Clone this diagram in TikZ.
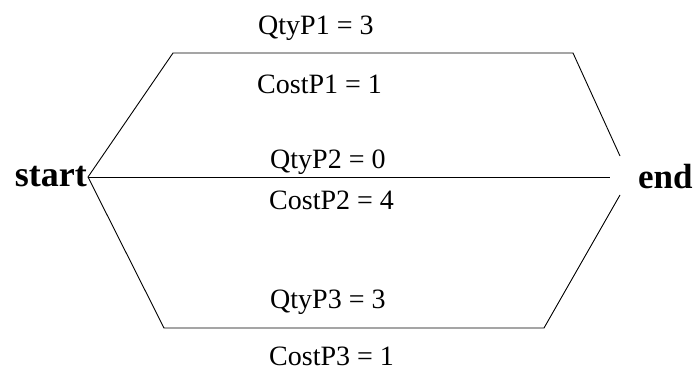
\documentclass[tikz,border=0pt]{standalone}
\usepackage{fontspec}
\setmainfont{Liberation Serif}
\begin{document}
\begin{tikzpicture}[x=1pt,y=-1pt,
  lbl/.style={anchor=base west,inner sep=0pt,font=\fontsize{28}{32}\selectfont},
  term/.style={inner sep=1pt,font=\fontsize{35}{40}\selectfont\bfseries},
  edge/.style={draw=black,line width=0.9pt}]
\useasboundingbox (0,0) rectangle (693,370);
\node[term,anchor=east,font=\fontsize{36}{40}\selectfont\bfseries] (start) at (88,177) {start};
\node[term,anchor=west] (end) at (637,177) {end};
\coordinate (t1) at (173,53);
\coordinate (t2) at (573,53);
\coordinate (t3) at (620,156);
\coordinate (m) at (610,177);
\coordinate (b1) at (164,328);
\coordinate (b2) at (544,328);
\coordinate (b3) at (620,195);
\draw[edge] (start.east) -- (t1) -- (t2) -- (t3);
\draw[edge] (start.east) -- (m);
\draw[edge] (start.east) -- (b1) -- (b2) -- (b3);
\node[lbl] (q1) at (258,34) {QtyP1 = 3};
\node[lbl] (c1) at (257,93) {CostP1 = 1};
\node[lbl] (q2) at (270,168) {QtyP2 = 0};
\node[lbl] (c2) at (269,209) {CostP2 = 4};
\node[lbl] (q3) at (270,308) {QtyP3 = 3};
\node[lbl] (c3) at (269,365) {CostP3 = 1};
\end{tikzpicture}
\end{document}
